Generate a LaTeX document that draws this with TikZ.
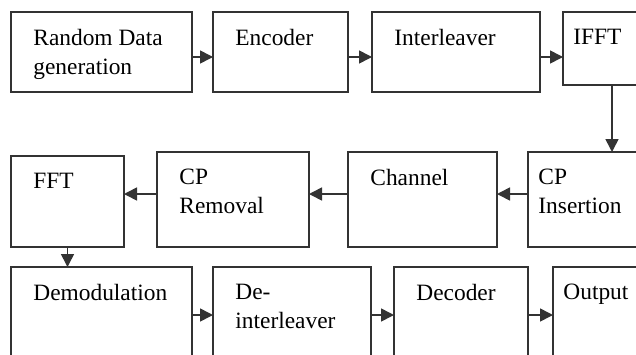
\documentclass[tikz,border=0pt]{standalone}
\usepackage{fontspec}
\setmainfont{Liberation Serif}
\usetikzlibrary{arrows.meta,positioning}
\definecolor{blockgrey}{HTML}{333333}

\begin{document}
\begin{tikzpicture}[x=0.5pt, y=-0.5pt,
  every node/.style={font=\fontsize{11.7}{14.5}\selectfont},
  blk/.style={draw=blockgrey, line width=0.8pt, anchor=north west,
    inner sep=0pt, outer sep=0pt},
  lbl/.style={anchor=north west, inner sep=0pt, align=left,
    xshift=11pt, yshift=-8.5pt},
  txt/.style={label={[lbl]north west:#1}},
  ntxt/.style={label={[lbl, xshift=-6pt]north west:#1}},
  arr/.style={draw=blockgrey, line width=0.8pt,
    -{Triangle[length=6.5pt, width=6.5pt]}}]
\path[use as bounding box, fill=white] (0,0) rectangle (636,354);
\clip (0,0) rectangle (636,354);
% transmitter
\node[blk, minimum width=90.5pt, minimum height=40pt,
      txt={Random Data\\generation}] (rdg) at (11,12) {};
\node[blk, minimum width=67.5pt, minimum height=40pt, txt=Encoder,
      right=10.5pt of rdg.north east, anchor=north west] (enc) {};
\node[blk, minimum width=84pt, minimum height=40pt, txt=Interleaver,
      right=12pt of enc.north east, anchor=north west] (intl) {};
\node[blk, minimum width=49pt, minimum height=36.5pt, ntxt=IFFT,
      right=11.5pt of intl.north east, anchor=north west] (ifft) {};
% channel row
\node[blk, minimum width=66pt, minimum height=47.5pt,
      ntxt={CP\\Insertion}] (cpins) at (528,152) {};
\node[blk, minimum width=74.5pt, minimum height=47.5pt, txt=Channel,
      left=15.5pt of cpins.north west, anchor=north east] (chan) {};
\node[blk, minimum width=76pt, minimum height=47.5pt, txt={CP\\Removal},
      left=19.5pt of chan.north west, anchor=north east] (cprem) {};
\node[blk, minimum width=56.5pt, minimum height=45.5pt, txt=FFT,
      left=16.5pt of cprem.south west, anchor=south east] (fft) {};
% receiver
\node[blk, minimum width=90.5pt, minimum height=48pt,
      txt=Demodulation] (demod) at (11,267) {};
\node[blk, minimum width=79pt, minimum height=48pt, txt={De-\\interleaver},
      right=10.5pt of demod.north east, anchor=north west] (deint) {};
\node[blk, minimum width=67pt, minimum height=48pt, txt=Decoder,
      right=11.5pt of deint.north east, anchor=north west] (dec) {};
\node[blk, minimum width=53.5pt, minimum height=48pt, ntxt=Output,
      right=12.5pt of dec.north east, anchor=north west] (out) {};
\foreach \src/\dst/\y in {rdg/enc/57, enc/intl/57, intl/ifft/57,
    demod/deint/315, deint/dec/315, dec/out/315}
  \draw[arr] (\src.east |- 0,\y) -- (\dst.west |- 0,\y);
\foreach \src/\dst in {cpins/chan, chan/cprem, cprem/fft}
  \draw[arr] (\src.west |- 0,194) -- (\dst.east |- 0,194);
\draw[arr] (ifft.south) -- (ifft.south |- cpins.north);
\draw[arr] (fft.south) -- (fft.south |- demod.north);
\end{tikzpicture}
\end{document}
